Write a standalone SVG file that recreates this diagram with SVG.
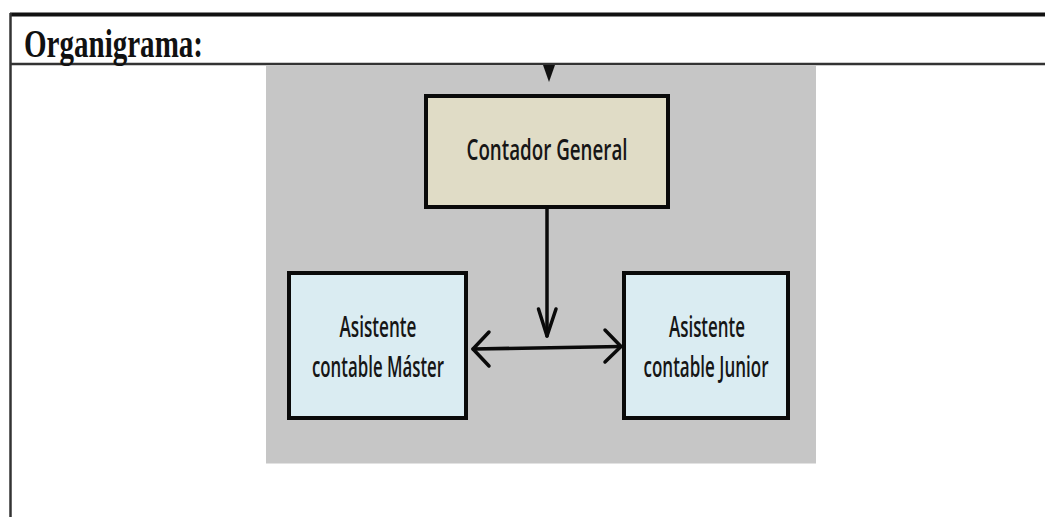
<svg xmlns="http://www.w3.org/2000/svg" width="1045" height="517" viewBox="0 0 1045 517">
<style>
.box{stroke:#0a0a0a;stroke-width:4}
.lbl{font-family:"Open Sans","Liberation Sans",sans-serif;font-size:28px;font-weight:600;fill:#161616;text-anchor:middle}
.conn{stroke:#0a0a0a;stroke-width:3.5;fill:none;stroke-linecap:round;stroke-linejoin:round}
</style>
<rect width="1045" height="517" fill="#ffffff"/>
<g id="frame">
<line x1="10" y1="14.5" x2="1045" y2="14.5" stroke="#111" stroke-width="4"/>
<line x1="10.5" y1="13" x2="10.5" y2="517" stroke="#333" stroke-width="2.5"/>
<line x1="10" y1="64" x2="1045" y2="64" stroke="#333" stroke-width="2.5"/>
<text transform="translate(24,57) scale(1,1.4)" font-family="'Liberation Serif',serif" font-weight="bold" font-size="29" fill="#111" textLength="179" lengthAdjust="spacingAndGlyphs">Organigrama:</text>
</g>
<rect id="panel" x="266" y="65.5" width="550" height="398" fill="#c6c6c6"/>
<polygon points="543,65 555,65 549,82" fill="#111"/>
<g id="contador">
<rect class="box" x="426" y="96" width="242" height="111" fill="#e0dcc6"/>
<text class="lbl" x="547" y="160" font-size="31" textLength="161" lengthAdjust="spacingAndGlyphs">Contador General</text>
</g>
<g id="master">
<rect class="box" x="289" y="273" width="177" height="145" fill="#daecf2"/>
<text class="lbl" x="378" y="337" textLength="77" lengthAdjust="spacingAndGlyphs">Asistente</text>
<text class="lbl" x="378" y="377" textLength="132" lengthAdjust="spacingAndGlyphs">contable Máster</text>
</g>
<g id="junior">
<rect class="box" x="624" y="273" width="164" height="145" fill="#daecf2"/>
<text class="lbl" x="707" y="337" textLength="76" lengthAdjust="spacingAndGlyphs">Asistente</text>
<text class="lbl" x="706" y="377" textLength="125" lengthAdjust="spacingAndGlyphs">contable Junior</text>
</g>
<g id="connectors">
<line class="conn" x1="547" y1="209" x2="547" y2="336"/>
<polyline class="conn" points="538.5,309 547,336 556,309"/>
<line class="conn" x1="473" y1="349" x2="621" y2="346.5"/>
<polyline class="conn" points="489,332 473,349 489,366"/>
<polyline class="conn" points="605,330 621,346.5 605,362"/>
</g>
</svg>
